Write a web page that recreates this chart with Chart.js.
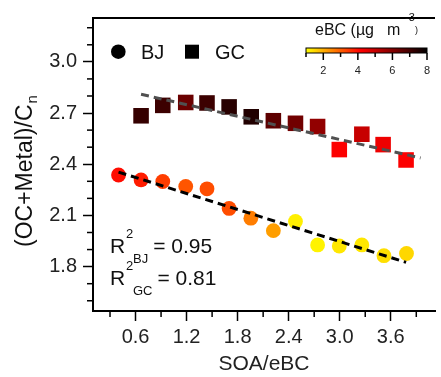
<!DOCTYPE html>
<html><head><meta charset="utf-8">
<script src="https://cdn.jsdelivr.net/npm/chart.js@4/dist/chart.umd.min.js"></script>
<style>
html,body{margin:0;padding:0;overflow:hidden;background:#fff;width:441px;height:377px}
#wrap{width:446px;height:377px;position:relative}
</style>
</head><body><div id="wrap"><canvas id="c" width="446" height="377"></canvas></div>
<script>
// ---- data ----
const soaEbcBJ = [0.40, 0.665, 0.92, 1.19, 1.44, 1.70, 1.955, 2.22, 2.48, 2.74, 2.995, 3.26, 3.52, 3.785];
const ratioBJ  = [2.337, 2.308, 2.299, 2.270, 2.256, 2.141, 2.084, 2.011, 2.065, 1.927, 1.921, 1.927, 1.864, 1.877];
const ebcBJ    = [4.0, 3.8, 3.4, 3.1, 3.2, 3.2, 2.6, 2.2, 1.2, 1.15, 1.3, 1.3, 1.4, 1.5];
const soaEbcGC = [0.665, 0.92, 1.19, 1.44, 1.70, 1.96, 2.22, 2.48, 2.74, 2.995, 3.26, 3.51, 3.78];
const ratioGC  = [2.684, 2.745, 2.762, 2.759, 2.736, 2.678, 2.655, 2.640, 2.621, 2.486, 2.576, 2.515, 2.425];
const ebcGC    = [7.2, 7.1, 6.4, 7.1, 7.4, 7.5, 6.6, 6.3, 5.8, 4.2, 5.0, 4.4, 4.2];
const fitBJx = [0.40, 3.78];
const fitBJy = [2.354, 1.825];
const fitGCx = [0.665, 3.95];
const fitGCy = [2.81, 2.437];
const xMajorTicks = [0.6, 1.2, 1.8, 2.4, 3.0, 3.6];
const xMinorTicks = [0.3, 0.9, 1.5, 2.1, 2.7, 3.3, 3.9];
const yMajorTicks = [1.8, 2.1, 2.4, 2.7, 3.0];
const yMinorTicks = [1.6, 1.7, 1.9, 2.0, 2.2, 2.3, 2.5, 2.6, 2.8, 2.9, 3.1, 3.2];
const cbarMajorTicks = [2, 4, 6, 8];
const cbarMinorTicks = [1, 3, 5, 7];
const r2Labels = [["BJ", "0.95"], ["GC", "0.81"]];
const legendLabels = ["BJ", "GC"];

const FONT = "'Liberation Sans', Arial, sans-serif";
const CB_MIN = 1, CB_MAX = 8;
function ebcColor(v) {
  const t = Math.max(0, Math.min(1, (v - CB_MIN) / (CB_MAX - CB_MIN)));
  const k = 0.45;
  if (t <= k) { const g = Math.round(255 * (1 - t / k)); return `rgb(255,${g},0)`; }
  const r = Math.round(255 * (1 - (t - k) / (1 - k)));
  return `rgb(${r},0,0)`;
}
const isIn = (arr, v) => arr.some(m => Math.abs(m - v) < 1e-6);
const pts = (xs, ys) => xs.map((x, i) => ({x, y: ys[i]}));

const overlay = {
  id: 'overlay',
  afterDraw(chart) {
    const ctx = chart.ctx, a = chart.chartArea, xs = chart.scales.x, ys = chart.scales.y;
    ctx.save();
    // top frame
    ctx.strokeStyle = '#000'; ctx.lineWidth = 2;
    ctx.beginPath(); ctx.moveTo(a.left - 1, a.top); ctx.lineTo(a.right, a.top); ctx.stroke();
    // minor ticks
    ctx.lineWidth = 1.5;
    xMinorTicks.forEach(v => { const p = xs.getPixelForValue(v);
      ctx.beginPath(); ctx.moveTo(p, a.bottom); ctx.lineTo(p, a.bottom + 6); ctx.stroke(); });
    yMinorTicks.forEach(v => { const p = ys.getPixelForValue(v);
      ctx.beginPath(); ctx.moveTo(a.left, p); ctx.lineTo(a.left - 6, p); ctx.stroke(); });
    // legend
    ctx.fillStyle = '#000';
    ctx.beginPath(); ctx.arc(118.3, 51.7, 7.3, 0, Math.PI * 2); ctx.fill();
    ctx.fillRect(185, 44.7, 14, 14);
    ctx.fillStyle = '#111'; ctx.font = `20px ${FONT}`; ctx.textBaseline = 'alphabetic';
    ctx.fillText(legendLabels[0], 141, 58.5);
    ctx.fillText(legendLabels[1], 215, 58.5);
    // colorbar
    const cx0 = 306, cx1 = 427, cy0 = 48, cy1 = 53;
    const cbx = v => cx0 + (v - CB_MIN) / (CB_MAX - CB_MIN) * (cx1 - cx0);
    const grad = ctx.createLinearGradient(cx0, 0, cx1, 0);
    for (let i = 0; i <= 20; i++) { const v = CB_MIN + i / 20 * (CB_MAX - CB_MIN); grad.addColorStop(i / 20, ebcColor(v)); }
    ctx.fillStyle = grad; ctx.fillRect(cx0, cy0, cx1 - cx0, cy1 - cy0);
    ctx.strokeStyle = '#000'; ctx.lineWidth = 1; ctx.strokeRect(cx0, cy0, cx1 - cx0, cy1 - cy0);
    ctx.lineWidth = 1.5;
    cbarMajorTicks.forEach(v => { const p = cbx(v); ctx.beginPath(); ctx.moveTo(p, cy1); ctx.lineTo(p, cy1 + 7); ctx.stroke(); });
    cbarMinorTicks.forEach(v => { const p = cbx(v); ctx.beginPath(); ctx.moveTo(p, cy1); ctx.lineTo(p, cy1 + 4); ctx.stroke(); });
    ctx.fillStyle = '#222'; ctx.font = `11px ${FONT}`; ctx.textAlign = 'center'; ctx.textBaseline = 'middle';
    cbarMajorTicks.forEach(v => ctx.fillText(String(v), cbx(v), 71));
    ctx.textAlign = 'left'; ctx.textBaseline = 'alphabetic';
    ctx.fillStyle = '#111'; ctx.font = `16px ${FONT}`;
    ctx.fillText('eBC (\u00b5g', 315, 35);
    ctx.fillText('m', 387, 35);
    ctx.font = `11px ${FONT}`;
    ctx.fillText('-3', 405, 21);
    ctx.font = `9px ${FONT}`;
    ctx.fillText(')', 415, 33);
    // R2 annotations
    ctx.fillStyle = '#111';
    const r2Base = [253, 285];
    r2Labels.forEach((lab, i) => {
      const b = r2Base[i];
      ctx.font = `21px ${FONT}`; ctx.fillText('R', 110, b);
      ctx.font = `13px ${FONT}`; ctx.fillText('2', 126, b - 15);
      ctx.fillText(lab[0], 133, b + 10);
      const w = ctx.measureText(lab[0]).width;
      ctx.font = `21px ${FONT}`; ctx.fillText('= ' + lab[1], 133 + w + 5, b);
    });
    // y-axis title with subscript
    ctx.translate(31.5, 247); ctx.rotate(-Math.PI / 2);
    ctx.font = `23px ${FONT}`; ctx.fillStyle = '#111';
    const main = '(OC+Metal)/C';
    ctx.fillText(main, 0, 0);
    const mw = ctx.measureText(main).width;
    ctx.font = `15px ${FONT}`; ctx.fillText('n', mw + 1, 5);
    ctx.restore();
  }
};

Chart.defaults.font.family = FONT;
new Chart(document.getElementById('c'), {
  type: 'scatter',
  data: {
    datasets: [
      { type: 'line', data: pts(fitBJx, fitBJy), borderColor: '#000', borderWidth: 3, borderDash: [8, 5], pointRadius: 0, fill: false, order: 0 },
      { type: 'line', data: pts(fitGCx, fitGCy), borderColor: '#505050', borderWidth: 3, borderDash: [8, 5], pointRadius: 0, fill: false, order: 0 },
      { label: 'BJ', data: pts(soaEbcBJ, ratioBJ), pointStyle: 'circle', pointRadius: 7.4,
        backgroundColor: ebcBJ.map(ebcColor), borderColor: ebcBJ.map(ebcColor), borderWidth: 0, order: 1 },
      { label: 'GC', data: pts(soaEbcGC, ratioGC), pointStyle: 'rect', pointRadius: 11,
        backgroundColor: ebcGC.map(ebcColor), borderColor: ebcGC.map(ebcColor), borderWidth: 0, order: 1 }
    ]
  },
  options: {
    responsive: false, animation: false,
    layout: { padding: { top: 12, left: 0, right: 0, bottom: 0 } },
    plugins: { legend: { display: false }, tooltip: { enabled: false } },
    scales: {
      x: {
        type: 'linear', min: 0.1, max: 4.12,
        afterBuildTicks: s => { s.ticks = xMajorTicks.map(v => ({ value: v })); },
        afterFit: s => { s.height = 66; },
        ticks: { autoSkip: false, maxRotation: 0, padding: 4, color: '#222', font: { size: 20 },
          callback: v => isIn(xMajorTicks, v) ? v.toFixed(1) : '' },
        grid: { drawOnChartArea: false, tickLength: 10, tickWidth: 1.5, tickColor: '#000' },
        border: { color: '#000', width: 2 },
        title: { display: true, text: 'SOA/eBC', color: '#222', font: { size: 21 }, padding: { top: 0, bottom: 0 } }
      },
      y: {
        type: 'linear', min: 1.54, max: 3.257,
        afterBuildTicks: s => { s.ticks = yMajorTicks.map(v => ({ value: v })); },
        afterFit: s => { s.width = 93; },
        ticks: { autoSkip: false, padding: 6, color: '#222', font: { size: 20 },
          callback: v => isIn(yMajorTicks, v) ? v.toFixed(1) : '' },
        grid: { drawOnChartArea: false, tickLength: 10, tickWidth: 1.5, tickColor: '#000' },
        border: { color: '#000', width: 2 }
      }
    }
  },
  plugins: [overlay]
});
</script></body></html>
